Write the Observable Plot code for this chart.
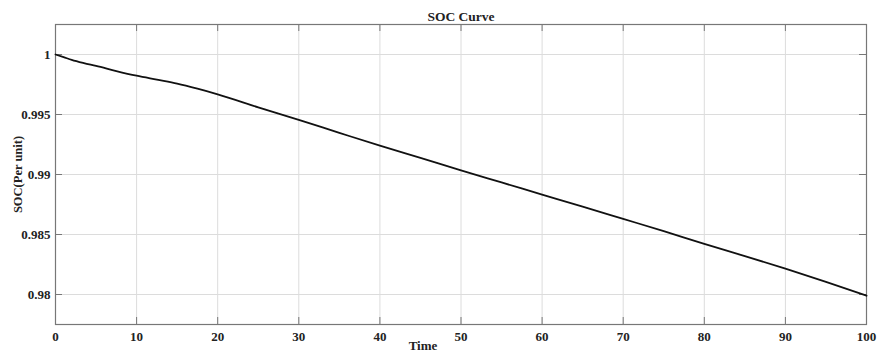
<!DOCTYPE html>
<html>
<head>
<meta charset="utf-8">
<script src="https://cdn.jsdelivr.net/npm/d3@7"></script>
<script src="https://cdn.jsdelivr.net/npm/@observablehq/plot@0.6"></script>
<style>
  html, body { margin: 0; padding: 0; background: #fff; }
  svg { display: block; }
</style>
</head>
<body>
<div id="chart"></div>
<script>
const time = [0, 1, 2, 3.5, 5, 7.5, 10, 12.5, 15, 17.5, 20, 25, 30, 35, 40, 45, 50, 55, 60, 65, 70, 75, 80, 85, 90, 95, 100];
const soc  = [1.0, 0.99978, 0.99955, 0.99928, 0.99905, 0.99862, 0.99823, 0.99790, 0.99757, 0.99715, 0.99668,
              0.99560, 0.99455, 0.99347, 0.99240, 0.99138, 0.99035, 0.98934, 0.98833, 0.98732, 0.98630,
              0.98528, 0.98421, 0.98320, 0.98215, 0.98105, 0.97990];
const xTicks = [0, 10, 20, 30, 40, 50, 60, 70, 80, 90, 100];
const yTicks = [0.98, 0.985, 0.99, 0.995, 1];
const yTickLabels = ["0.98", "0.985", "0.99", "0.995", "1"];
const titleText = "SOC Curve";
const xLabel = "Time";
const yLabel = "SOC(Per unit)";

const data = time.map((t, i) => ({time: t, soc: soc[i]}));

const W = 877, H = 353, mT = 24, mB = 29, mL = 55, mR = 11;
const frameW = W - mL - mR, frameH = H - mT - mB, tick = 7;
const axisColor = "#777";

const chart = Plot.plot({
  width: W,
  height: H,
  marginTop: mT,
  marginBottom: mB,
  marginLeft: mL,
  marginRight: mR,
  style: {fontFamily: '"Liberation Serif", "Times New Roman", serif', fontSize: "13px", fontWeight: "bold", color: "#222", background: "#fff"},
  x: {domain: [0, 100]},
  y: {domain: [0.9775, 1.0025]},
  marks: [
    Plot.gridX(xTicks, {stroke: "#dcdcdc", strokeOpacity: 1}),
    Plot.gridY(yTicks, {stroke: "#dcdcdc", strokeOpacity: 1}),
    // inward tick marks on all four sides
    Plot.ruleX(xTicks, {x: d => d, stroke: axisColor, insetTop: frameH - tick}),
    Plot.ruleX(xTicks, {x: d => d, stroke: axisColor, insetBottom: frameH - tick}),
    Plot.ruleY(yTicks, {y: d => d, stroke: axisColor, insetRight: frameW - tick}),
    Plot.ruleY(yTicks, {y: d => d, stroke: axisColor, insetLeft: frameW - tick}),
    Plot.axisX(xTicks, {tickSize: 0, tickPadding: 7.5, label: null, tickFormat: d => String(d), fontSize: 13}),
    Plot.axisY(yTicks, {tickSize: 0, tickPadding: 5, label: null, tickFormat: (d, i) => yTickLabels[i], fontSize: 13}),
    Plot.frame({stroke: axisColor, strokeWidth: 1.2}),
    Plot.line(data, {x: "time", y: "soc", stroke: "#111", strokeWidth: 1.8, curve: "monotone-x"}),
    Plot.text([titleText], {frameAnchor: "top", lineAnchor: "middle", dy: -8, fontSize: 13.5, fontWeight: "bold", fill: "#222"}),
    Plot.text([xLabel], {frameAnchor: "bottom", lineAnchor: "middle", dx: -38, dy: 21.5, fontSize: 13, fontWeight: "bold", fill: "#222"}),
    Plot.text([yLabel], {frameAnchor: "left", lineAnchor: "middle", textAnchor: "middle", dx: -38, rotate: -90, fontSize: 12.5, fontWeight: "bold", fill: "#222"})
  ]
});
document.getElementById("chart").appendChild(chart);
</script>
</body>
</html>
